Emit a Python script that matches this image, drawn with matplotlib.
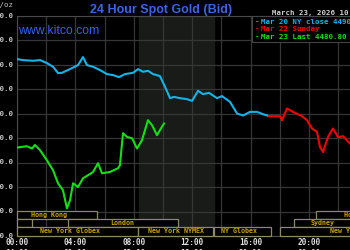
import matplotlib
matplotlib.use('Agg')
import matplotlib.pyplot as plt
import matplotlib.transforms as mtransforms

# --- data (hours since 00:00 NY time, price in USD/oz) ---
prev_hours = [0.00, 0.41, 1.10, 1.58, 2.05, 2.47, 2.81, 3.08, 3.63, 4.18, 4.52, 4.79,
              5.21, 5.68, 6.16, 6.58, 6.99, 7.40, 7.95, 8.29, 8.63, 8.97, 9.32, 9.79,
              10.14, 10.48, 10.75, 11.16, 11.64, 11.99, 12.40, 12.74, 13.15, 13.70,
              14.04, 14.59, 15.07, 15.48, 15.96, 16.44, 16.85, 17.26]
prev_price = [4611.9, 4609.8, 4608.4, 4609.8, 4603.7, 4596.1, 4583.2, 4583.8, 4591.4,
              4599.6, 4616.0, 4599.6, 4596.1, 4589.4, 4581.2, 4579.1, 4575.0, 4581.2,
              4583.8, 4591.4, 4585.9, 4587.9, 4581.2, 4577.1, 4555.1, 4532.0, 4534.6,
              4532.0, 4529.9, 4526.4, 4546.9, 4540.2, 4542.8, 4532.0, 4536.1, 4524.4,
              4500.6, 4496.5, 4503.9, 4503.9, 4499.2, 4495.1]

sun_hours = [17.26, 18.01, 18.15, 18.49, 18.90, 19.52, 19.86, 20.21, 20.55, 20.75,
             20.96, 21.30, 21.64, 21.99, 22.33, 22.81]
sun_price = [4495.1, 4495.1, 4486.9, 4510.9, 4503.9, 4495.1, 4486.9, 4469.9, 4462.9,
             4432.2, 4421.9, 4452.7, 4469.9, 4452.1, 4454.2, 4439.2]

today_hours = [0.00, 0.68, 1.03, 1.23, 1.58, 2.05, 2.40, 2.47, 2.81, 3.15, 3.42, 3.63,
               3.84, 4.18, 4.52, 4.86, 5.21, 5.55, 5.82, 6.37, 6.92, 7.05, 7.26, 7.53,
               7.88, 8.22, 8.56, 8.97, 9.25, 9.59, 9.79, 10.07]
today_price = [4430.9, 4433.6, 4428.9, 4436.3, 4425.4, 4404.9, 4387.9, 4384.5, 4357.8,
               4343.5, 4306.6, 4322.6, 4357.8, 4350.2, 4368.1, 4374.2, 4381.0, 4398.8,
               4378.3, 4381.0, 4388.6, 4394.7, 4460.3, 4452.7, 4450.0, 4428.9, 4445.9,
               4486.9, 4476.7, 4456.2, 4466.6, 4480.1]

y_ticks = [4250, 4300, 4350, 4400, 4450, 4500, 4550, 4600, 4650, 4700]
x_ticks = [0, 4, 8, 12, 16, 20]
x_labels = ['00:00', '04:00', '08:00', '12:00', '16:00', '20:00']
x_labels2 = ['04:00', '08:00', '12:00', '16:00', '20:00', '00:00']

# sessions: (row, start hour, end hour, label, label x in hours)
sessions = [
    (0, 0.0, 5.5, 'Hong Kong', 2.16),
    (0, 20.5, 25.0, 'Hong Kong', 23.6),
    (1, 0.0, 1.0, '', 0.5),
    (1, 3.5, 11.0, 'London', 7.2),
    (1, 19.0, 25.0, 'Sydney', 20.96),
    (2, 0.0, 8.3, 'New York Globex', 3.66),
    (2, 8.3, 13.45, 'New York NYMEX', 10.87),
    (2, 13.5, 17.4, 'NY Globex', 15.2),
    (2, 18.0, 25.0, 'New York Globex', 23.5),
]
nymex_start = 8.33
nymex_end = 13.5

BG = '#000000'
GRID = '#363636'
BLUE = '#14b4e8'
RED = '#f20000'
GREEN = '#12e012'
SESSION_TXT = '#c9a600'
SESSION_EDGE = '#8c8a66'
MONO = 'DejaVu Sans Mono'

fig = plt.figure(figsize=(3.5, 2.5), dpi=100, facecolor=BG)
# plot area: left at x=17px, top at y=16px, bottom at y=236px, 14.6 px per hour
ax = fig.add_axes([17 / 350, 14 / 250, 24 * 14.6 / 350, 220 / 250], facecolor=BG)
ax.set_xlim(0, 24)
ax.set_ylim(4250, 4700)

ax.axvspan(nymex_start, nymex_end, color='#191b19', zorder=0)

ax.set_xticks(range(0, 25, 2))
ax.set_yticks(y_ticks)
ax.grid(True, color=GRID, linewidth=0.9, zorder=1)
ax.tick_params(length=0, labelbottom=False, labelleft=False)
for s in ax.spines.values():
    s.set_color('#4a4a4a')
    s.set_linewidth(0.8)

ax.plot(prev_hours, prev_price, color=BLUE, lw=1.5, zorder=4)
ax.plot(sun_hours, sun_price, color=RED, lw=1.5, zorder=4)
ax.plot(today_hours, today_price, color=GREEN, lw=1.5, zorder=4)

# session bars along the bottom
trans = mtransforms.blended_transform_factory(ax.transData, ax.transAxes)
row_h = 0.0375
for row, x0, x1, name, tx in sessions:
    yb = 0.002 + (2 - row) * row_h
    ax.add_patch(plt.Rectangle((x0, yb), x1 - x0, row_h, transform=trans,
                               facecolor=BG, edgecolor=SESSION_EDGE, lw=0.9,
                               zorder=5, clip_on=False))
    if name:
        ax.text(tx, yb + row_h / 2, name, transform=trans, ha='center', va='center',
                color=SESSION_TXT, fontsize=4.8, family=MONO, fontweight='bold',
                zorder=6)

# axis labels (drawn as figure text so they can run off the left edge)
for v in y_ticks:
    py = 16 + (4700 - v) / 50 * 24.4
    fig.text(13.5 / 350, 1 - py / 250, '%.1f' % v, ha='right', va='center',
             color='#c8c8c8', fontsize=5.3, family=MONO, fontweight='bold')
fig.text(13.5 / 350, 1 - 5.5 / 250, '$/oz', ha='right', va='center',
         color='#c8c8c8', fontsize=5.3, family=MONO)

for h, lab, lab2 in zip(x_ticks, x_labels, x_labels2):
    px = 17 + h * 14.6
    fig.text(px / 350, 1 - 242.5 / 250, lab, ha='center', va='center',
             color='#e0e0e0', fontsize=5.6, family=MONO, fontweight='bold')
    fig.text(px / 350, 1 - 253 / 250, lab2, ha='center', va='center',
             color='#e0e0e0', fontsize=5.6, family=MONO, fontweight='bold')

# titles
fig.text(161 / 350, 1 - 10 / 250, '24 Hour Spot Gold (Bid)', ha='center', va='center',
         color='#4063e2', fontsize=9, fontweight='bold',
         family=['Liberation Sans Narrow', 'Liberation Sans', 'DejaVu Sans'])
fig.text(18 / 350, 1 - 31 / 250, 'www.kitco.com', ha='left', va='center',
         color='#3a5ef0', fontsize=8.8,
         family=['Liberation Sans', 'DejaVu Sans'])
fig.text(272 / 350, 1 - 13 / 250, 'March 23, 2026 10:05 NY Time', ha='left', va='center',
         color='#d0d0d0', fontsize=5.3, family=MONO, fontweight='bold')

# legend box
fig.patches.append(plt.Rectangle((252 / 350, 1 - 42 / 250), 0.5, 26 / 250,
                                 transform=fig.transFigure, facecolor=BG,
                                 edgecolor='#454545', lw=0.8, zorder=10))
legend_rows = [('Mar 20 NY close 4490.90', BLUE, 21.7),
               ('Mar 22 Sunday', RED, 29.3),
               ('Mar 23 Last 4480.80', GREEN, 37.0)]
for txt, col, py in legend_rows:
    fig.text(255 / 350, 1 - py / 250, '-', ha='left', va='center', color=col,
             fontsize=5.3, family=MONO, fontweight='bold', zorder=11)
    fig.text(261 / 350, 1 - py / 250, txt, ha='left', va='center', color=col,
             fontsize=5.3, family=MONO, fontweight='bold', zorder=11)

fig.savefig('out.png', dpi=100, facecolor=BG)
